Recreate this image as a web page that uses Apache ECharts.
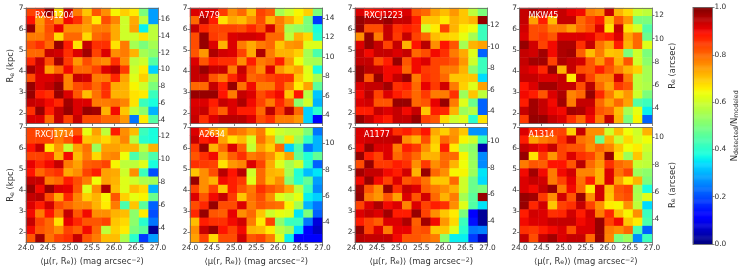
<!DOCTYPE html>
<html><head><meta charset="utf-8"><style>html,body{margin:0;padding:0;background:#fff}#c{width:741px;height:273px}</style>
<script src="https://cdn.jsdelivr.net/npm/echarts@6/dist/echarts.min.js"></script></head><body><div id="c"></div>
<script>
// completeness (percent), rows listed top (Re=7) to bottom (Re=1.5), columns mu=24 to 27
const rxcj1204=[
[84,86,98,68,94,78,70,82,76,65,69,66,50,28],
[89,75,83,76,90,86,76,66,83,77,60,73,58,28],
[98,76,83,91,76,76,74,78,78,73,60,74,36,58],
[78,78,82,68,80,80,68,80,82,73,60,60,67,58],
[83,86,80,98,88,67,94,86,86,67,78,55,50,55],
[80,80,94,93,86,92,97,84,92,76,78,72,55,52],
[87,94,83,97,85,75,83,78,76,86,76,58,60,45],
[97,93,74,80,90,80,80,84,92,95,85,60,66,33],
[83,92,92,94,77,94,93,78,78,87,74,62,69,55],
[98,92,94,98,77,83,85,80,86,73,72,65,60,50],
[98,88,86,98,92,82,71,79,86,72,72,67,66,42],
[94,93,90,87,97,92,92,78,78,79,77,67,42,38],
[86,98,88,94,98,92,98,97,72,90,70,58,52,30],
[92,92,80,94,84,94,83,83,80,80,75,24,66,45]];
const a779=[
[92,92,92,85,76,80,71,84,81,55,60,65,69,50],
[80,96,88,67,73,71,76,83,72,78,73,67,50,18],
[94,87,84,84,84,83,87,82,93,78,55,53,50,38],
[83,98,85,83,92,93,93,92,80,80,58,72,68,40],
[83,98,92,72,92,78,73,78,80,70,75,76,62,62],
[82,75,96,93,92,84,73,96,78,72,72,69,55,44],
[92,82,88,86,86,76,88,78,80,88,75,64,56,55],
[94,98,94,94,78,94,82,76,92,75,71,74,62,38],
[94,94,82,78,87,92,80,82,84,86,86,70,63,55],
[80,80,94,88,98,79,90,78,78,86,78,66,74,46],
[98,98,98,89,78,94,92,83,87,90,70,89,57,32],
[92,92,88,94,92,96,90,84,78,87,80,52,60,30],
[93,94,86,81,92,88,88,80,95,84,95,80,33,40],
[94,86,92,95,95,95,92,83,86,78,78,75,33,11]];
const rxcj1223=[
[92,89,90,92,90,92,82,80,74,71,75,70,58,50],
[98,96,96,98,94,94,88,70,70,66,72,70,72,98],
[98,83,83,94,86,88,86,60,66,84,72,66,64,42],
[76,98,78,94,85,94,84,80,71,69,68,63,55,42],
[92,98,94,84,94,72,89,95,76,89,82,55,72,74],
[94,90,94,94,92,94,80,83,90,86,78,73,62,22],
[94,94,83,88,98,82,90,92,84,84,82,75,60,42],
[98,95,94,90,90,80,90,85,84,78,78,72,52,42],
[98,82,98,90,94,98,78,86,84,80,70,70,70,34],
[92,94,94,97,86,88,80,91,85,93,78,69,62,74],
[90,95,84,92,88,85,80,85,78,78,86,54,70,58],
[92,93,82,82,98,98,80,82,91,98,78,62,48,22],
[88,88,94,92,94,90,94,70,88,87,72,54,57,22],
[98,94,90,88,94,94,98,84,82,68,60,62,40,67]];
const mkw45=[
[94,96,94,92,94,91,90,78,76,94,72,68,60,58],
[94,74,88,71,94,94,80,84,88,71,82,75,50,50],
[93,83,83,78,78,74,80,83,92,67,94,67,61,45],
[92,83,85,82,92,92,92,91,86,88,92,74,80,48],
[98,93,84,90,96,96,86,94,79,74,88,72,80,62],
[94,93,97,90,96,97,81,71,78,70,71,50,60,50],
[94,97,97,84,96,94,93,82,75,84,72,82,60,52],
[93,91,87,98,72,94,83,82,88,82,77,72,69,55],
[94,94,92,92,94,66,94,84,77,77,93,78,58,55],
[89,92,97,97,94,94,83,95,80,74,85,82,58,56],
[90,88,82,92,96,77,80,98,87,78,70,75,60,50],
[88,97,94,90,97,78,94,94,80,74,80,74,45,42],
[94,97,94,91,90,97,96,92,82,80,71,55,63,36],
[85,98,98,94,92,86,80,90,78,94,72,50,65,22]];
const rxcj1714=[
[84,83,82,76,78,82,63,74,58,88,76,71,42,38],
[84,84,84,78,82,89,70,71,68,72,77,57,40,38],
[89,94,66,75,59,74,79,54,74,74,72,72,58,72],
[84,84,86,72,90,71,78,68,76,77,64,44,52,44],
[91,87,90,94,78,74,81,82,84,65,58,58,62,38],
[89,80,84,86,73,76,84,88,74,73,60,76,42,20],
[94,94,78,80,88,83,78,64,74,72,62,60,56,55],
[98,90,98,92,91,82,62,76,96,71,62,71,68,30],
[94,95,83,73,87,77,69,72,65,82,69,63,65,48],
[92,88,93,83,80,77,77,72,66,78,44,70,46,22],
[90,78,89,79,94,82,90,76,76,72,71,52,66,20],
[94,84,80,67,91,87,82,82,84,70,68,52,40,24],
[90,82,80,76,84,81,90,80,58,69,66,50,46,2],
[82,97,79,84,86,94,82,78,71,71,56,40,18,28]];
const a2634=[
[92,84,76,72,80,78,74,78,65,60,58,58,50,24],
[94,88,90,74,67,71,61,79,72,55,67,54,41,30],
[85,98,72,80,92,81,59,74,69,80,33,44,24,30],
[82,86,90,74,81,86,78,80,76,68,74,47,39,47],
[86,85,84,67,75,77,92,84,73,62,55,60,40,22],
[70,76,83,95,89,95,60,80,72,71,55,39,31,35],
[98,76,72,90,88,85,62,80,71,76,51,40,47,28],
[84,76,84,70,88,82,78,86,82,79,73,58,42,26],
[92,82,90,94,85,70,79,83,76,62,59,63,36,33],
[83,87,98,83,83,92,78,82,80,79,65,55,30,24],
[87,98,82,81,91,76,80,70,60,63,62,35,50,22],
[71,88,86,86,90,93,78,66,84,52,42,42,24,8],
[76,94,98,89,84,90,72,71,66,58,54,34,11,6],
[74,84,68,83,83,93,82,84,78,62,36,11,11,11]];
const a1177=[
[92,92,90,92,86,88,84,89,73,69,75,70,27,27],
[92,93,94,94,95,76,72,83,70,80,76,65,60,42],
[90,98,92,92,78,88,85,76,68,88,66,55,52,4],
[98,88,84,92,80,84,80,72,72,80,80,65,53,26],
[83,98,85,85,88,86,76,85,76,80,72,64,54,26],
[97,94,94,90,88,93,72,98,80,76,65,65,54,35],
[90,98,90,84,92,82,84,79,70,70,80,60,48,34],
[97,82,76,98,86,94,92,81,78,76,72,60,48,50],
[98,78,75,82,74,92,82,93,80,72,78,55,46,98],
[84,92,96,90,92,77,92,84,88,86,76,62,45,35],
[92,94,92,97,88,88,98,84,76,70,66,50,11,2],
[88,84,81,92,92,96,81,97,90,75,68,42,14,2],
[98,84,92,78,91,91,82,83,70,70,62,40,24,25],
[95,94,94,94,90,82,82,80,78,52,36,36,18,5]];
const a1314=[
[92,86,86,84,84,69,94,76,76,60,71,64,60,72],
[88,74,78,80,86,94,79,77,48,72,59,68,61,64],
[94,92,90,94,84,82,82,76,80,77,70,64,66,60],
[98,67,85,75,84,92,86,84,77,98,67,54,70,58],
[78,82,81,89,89,82,95,80,75,86,80,78,59,58],
[90,97,90,78,90,93,77,77,72,92,79,84,54,52],
[92,94,93,78,84,91,79,88,72,92,74,66,72,50],
[92,90,94,98,78,90,80,66,93,71,82,84,55,38],
[98,97,85,76,93,82,98,76,93,70,81,83,56,62],
[98,87,93,70,84,86,94,84,76,66,65,76,58,34],
[88,93,92,86,87,93,88,93,78,87,71,65,76,42],
[90,92,92,94,94,94,90,92,98,84,90,70,66,44],
[86,85,88,90,92,83,92,92,98,78,76,80,44,22],
[94,83,94,97,92,94,94,80,98,77,50,54,26,42]];
const names=['RXCJ1204','A779','RXCJ1223','MKW45','RXCJ1714','A2634','A1177','A1314'];
const grids=[rxcj1204,a779,rxcj1223,mkw45,rxcj1714,a2634,a1177,a1314];
const xTicks=[24,24.5,25,25.5,26,26.5,27];
const yTicks=[2,3,4,5,6,7];
const arcTicks=[[4,6,8,10,12,14,16],[4,6,8,10,12,14],[4,6,8,10,12],[4,6,8,10,12],[4,6,8,10,12],[4,6,8,10],[4,6,8,10],[4,6,8,10]];
const arcRange=[[3.6,17.3],[3.17,15.03],[2.88,13.58],[2.70,12.64],[2.76,12.73],[2.45,11.22],[2.41,11],[2.32,10.71]];
const colorbarTicks=[0,0.2,0.4,0.6,0.8,1];
const pos=[[26,8,132,115.5],[190,8,132.5,115.5],[355,8,132.5,115.5],[519.5,8,132.5,115.5],[26,127.5,132,115],[190,127.5,132.5,115],[355,127.5,132.5,115],[519.5,127.5,132.5,115]];
const seg=(s,t)=>{for(let i=1;i<s.length;i++)if(t<=s[i][0]){const a=s[i-1],b=s[i];return a[1]+(b[1]-a[1])*(t-a[0])/(b[0]-a[0]);}return s[s.length-1][1];};
const R=[[0,0],[.35,0],[.66,1],[.89,1],[1,.5]],G=[[0,0],[.125,0],[.375,1],[.64,1],[.91,0],[1,0]],B=[[0,.5],[.11,1],[.34,1],[.65,0],[1,0]];
const jet=[];for(let i=0;i<=100;i++){const t=i/100;jet.push(`rgb(${[R,G,B].map(s=>Math.round(seg(s,t)*255)).join(',')})`);}
const FONT='"DejaVu Sans"',TXT='#333',LINE='#666';
const band=n=>Array.from({length:n},(_,i)=>String(i));
const rich={sub:{fontSize:6.3,fontFamily:FONT,color:TXT,verticalAlign:'bottom',lineHeight:7,padding:[3,0,0,0]},sup:{fontSize:6.3,fontFamily:FONT,color:TXT,verticalAlign:'top',lineHeight:7,padding:[0,0,3,0]}};
const nameStyle={fontSize:8.4,fontFamily:FONT,color:TXT,rich};
const opt={animation:false,backgroundColor:'#fff',grid:[],xAxis:[],yAxis:[],series:[],title:[],
 visualMap:{type:'continuous',show:false,min:0,max:1,inRange:{color:jet},seriesIndex:Array.from({length:9},(_,i)=>i)}};
const lab={fontSize:7.4,fontFamily:FONT,color:TXT,margin:2.5,hideOverlap:false};
const tick=v=>({show:true,length:2.5,lineStyle:{color:LINE,width:.8},customValues:v});
grids.forEach((g,i)=>{
 const [l,t,w,h]=pos[i],gi=i,xb=opt.xAxis.length,yb=opt.yAxis.length,bottom=i>=4;
 opt.grid.push({left:l,top:t,width:w,height:h,show:false});
 opt.xAxis.push({type:'category',gridIndex:gi,position:'top',data:band(14),axisLine:{show:true,lineStyle:{color:LINE,width:.8}},axisTick:{show:false},axisLabel:{show:false},splitLine:{show:false},z:5});
 opt.xAxis.push({type:'value',gridIndex:gi,position:'bottom',min:24,max:27,splitLine:{show:false},z:5,
  axisLine:{show:true,onZero:false,lineStyle:{color:LINE,width:.8}},axisTick:tick(xTicks),
  axisLabel:{...lab,show:bottom,customValues:xTicks,formatter:v=>v.toFixed(1)},
  name:bottom?'⟨μ(r, R{sub|e})⟩ (mag arcsec{sup|−2})':'',nameLocation:'middle',nameGap:15,nameTextStyle:nameStyle});
 opt.yAxis.push({type:'category',gridIndex:gi,data:band(14),show:false});
 opt.yAxis.push({type:'value',gridIndex:gi,position:'left',min:1.5,max:7,splitLine:{show:false},z:5,
  axisLine:{show:true,onZero:false,lineStyle:{color:LINE,width:.8}},axisTick:tick(yTicks),axisLabel:{...lab,customValues:yTicks},
  name:(i%4===0)?'R{sub|e} (kpc)':'',nameLocation:'middle',nameGap:9,nameTextStyle:nameStyle});
 opt.yAxis.push({type:'value',gridIndex:gi,position:'right',min:arcRange[i][0],max:arcRange[i][1],splitLine:{show:false},z:5,
  axisLine:{show:true,onZero:false,lineStyle:{color:LINE,width:.8}},axisTick:tick(arcTicks[i]),axisLabel:{...lab,customValues:arcTicks[i]},
  name:(i%4===3)?'R{sub|e} (arcsec)':'',nameLocation:'middle',nameGap:12,nameRotate:90,nameTextStyle:nameStyle});
 const d=[];g.forEach((row,r)=>row.forEach((v,c)=>d.push([c,13-r,v/100])));
 opt.series.push({type:'heatmap',xAxisIndex:xb,yAxisIndex:yb,data:d,itemStyle:{borderWidth:0},progressive:0,z:2});
 opt.title.push({text:names[i],left:l+9,top:t+3.5,textStyle:{fontSize:8,fontWeight:'normal',fontFamily:FONT,color:'#fff'},padding:0});
});
// colour bar
const cbLevels=Array.from({length:256},(_,i)=>[0,i,(i+.5)/256]);
const xb=opt.xAxis.length,yb=opt.yAxis.length;
opt.grid.push({left:693,top:7.5,width:19,height:236.5,show:false});
opt.xAxis.push({type:'category',gridIndex:8,position:'bottom',data:['0'],axisLine:{show:true,onZero:false,lineStyle:{color:LINE,width:.8}},axisTick:{show:false},axisLabel:{show:false},z:5});
opt.xAxis.push({type:'category',gridIndex:8,position:'top',data:['0'],axisLine:{show:true,onZero:false,lineStyle:{color:LINE,width:.8}},axisTick:{show:false},axisLabel:{show:false},z:5});
opt.yAxis.push({type:'category',gridIndex:8,position:'left',data:band(256),axisLine:{show:true,onZero:false,lineStyle:{color:LINE,width:.8}},axisTick:{show:false},axisLabel:{show:false},z:5});
opt.yAxis.push({type:'value',gridIndex:8,position:'right',min:0,max:1,interval:.2,splitLine:{show:false},z:5,
 axisLine:{show:true,onZero:false,lineStyle:{color:LINE,width:.8}},axisTick:{show:true,length:2.5,lineStyle:{color:LINE,width:.8}},
 axisLabel:{...lab,formatter:v=>v.toFixed(1)},name:'N{sub|detected}/N{sub|modeled}',nameLocation:'middle',nameGap:18,nameRotate:90,nameTextStyle:nameStyle});
opt.series.push({type:'heatmap',xAxisIndex:xb,yAxisIndex:yb,data:cbLevels,itemStyle:{borderWidth:0},progressive:0,z:2});
echarts.init(document.getElementById('c'),null,{renderer:'canvas'}).setOption(opt);
</script></body></html>
